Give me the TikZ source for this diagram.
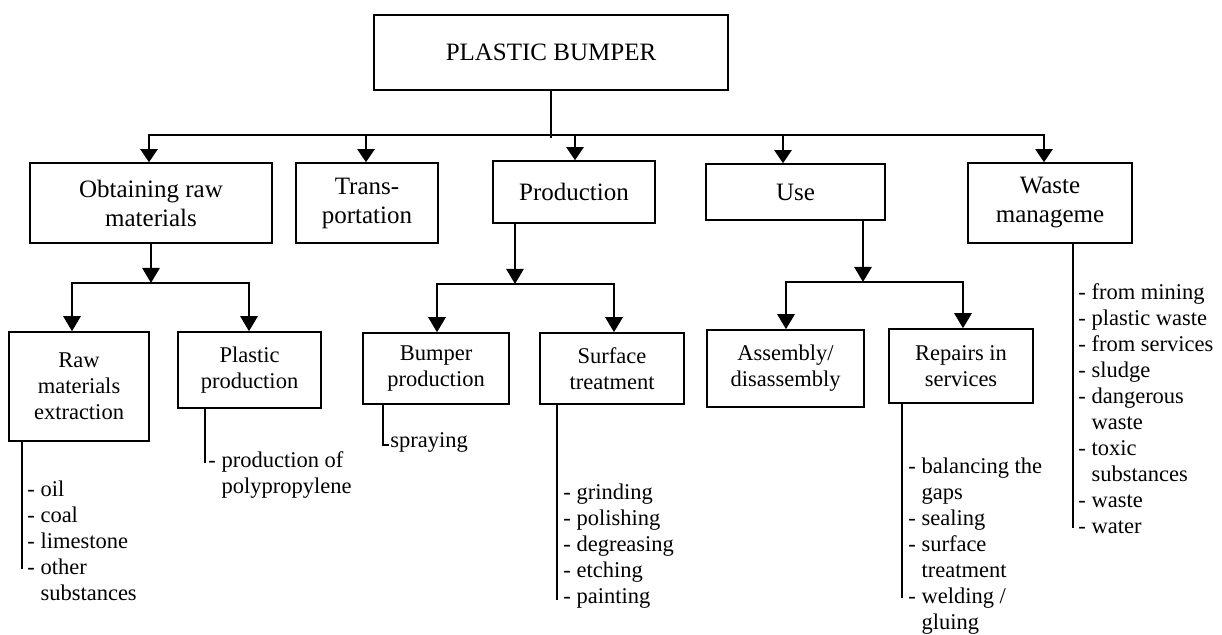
\documentclass[tikz,border=0pt]{standalone}
\usepackage{fontspec}
\setmainfont{Liberation Serif}
\usetikzlibrary{arrows.meta}
\tikzset{
  box/.style={draw, line width=0.75pt, align=center, inner sep=0pt, font=\fontsize{12.5}{14.5}\selectfont},
  sbox/.style={box, font=\fontsize{11.25}{13}\selectfont},
  conn/.style={line width=1pt},
  arr/.style={line width=1pt, -{Triangle[width=8.5pt,length=6.5pt]}},
  arrtwo/.style={line width=1.4pt, line join=miter, -{Triangle[width=8.5pt,length=7.5pt]}},
  listline/.style={line width=0.8pt},
  listtxt/.style={inner sep=0pt, anchor=base west, font=\fontsize{11.25}{13}\selectfont},
}
\begin{document}
\begin{tikzpicture}[x=0.5pt,y=-0.5pt]
\useasboundingbox (0,0) rectangle (1222,635);
\fill[white] (0,0) rectangle (1222,635);

% top
\node[box, minimum width=177pt, minimum height=37.5pt] (top) at (551,52.5) {PLASTIC BUMPER};

% level 1
\node[box, minimum width=121pt, minimum height=40pt] (obt) at (151,203) {Obtaining raw\\materials};
\node[box, minimum width=71pt, minimum height=40pt] (trans) at (367,203) {Trans-\\portation};
\node[box, minimum width=81pt, minimum height=31pt] (prod) at (574,192) {Production};
\node[box, minimum width=89.5pt, minimum height=28pt] (use) at (795.5,192) {Use};
\node[box, minimum width=82pt, minimum height=40pt] (waste) at (1050,203) {Waste\\manageme};

% level 2
\node[sbox, minimum width=70pt, minimum height=54.5pt] (rme) at (79,386.5) {Raw\\materials\\extraction};
\node[sbox, minimum width=71.5pt, minimum height=38pt] (pp) at (249.5,370) {Plastic\\production};
\node[sbox, minimum width=73pt, minimum height=35.5pt] (bp) at (436,368.5) {Bumper\\production};
\node[sbox, minimum width=72pt, minimum height=35.5pt] (st) at (612,368.5) {Surface\\treatment};
\node[sbox, minimum width=78.5pt, minimum height=38.5pt] (ad) at (785.5,368.5) {Assembly/\\disassembly};
\node[sbox, minimum width=72pt, minimum height=37pt] (rs) at (961,366) {Repairs in\\services};

% top bus
\coordinate (bus) at (551,135);
\coordinate (topend) at (551,138);
\coordinate (b1) at (149,135);
\coordinate (b2) at (366,135);
\coordinate (b3) at (575,135);
\coordinate (b4) at (783,135);
\coordinate (b5) at (1044,135);
\draw[conn] (top.south) -- (topend);
\draw[arr] (bus) -- (b1) -- (b1 |- obt.north);
\draw[arr] (bus) -- (b5) -- (b5 |- waste.north);
\draw[arr] (b2) -- (b2 |- trans.north);
\draw[arr] (b3) -- (b3 |- prod.north);
\draw[arr] (b4) -- (b4 |- use.north);

% obtaining raw materials branch
\coordinate (ob) at (151,283);
\coordinate (ol) at (72,283);
\coordinate (or) at (249,283);
\draw[arrtwo] (obt.south) -- (ob);
\draw[arrtwo] (ob) -- (ol) -- (ol |- rme.north);
\draw[arrtwo] (ob) -- (or) -- (or |- pp.north);

% production branch
\coordinate (pb) at (515,284);
\coordinate (pl) at (437,284);
\coordinate (pr) at (614,284);
\draw[arrtwo] (prod.south -| pb) -- (pb);
\draw[arrtwo] (pb) -- (pl) -- (pl |- bp.north);
\draw[arrtwo] (pb) -- (pr) -- (pr |- st.north);

% use branch
\coordinate (ub) at (863,282);
\coordinate (ul) at (786,282);
\coordinate (ur) at (963,282);
\draw[arrtwo] (use.south -| ub) -- (ub);
\draw[arrtwo] (ub) -- (ul) -- (ul |- ad.north);
\draw[arrtwo] (ub) -- (ur) -- (ur |- rs.north);

% lists
\coordinate (l1) at (22,569);
\draw[listline] (rme.south -| l1) -- (l1);
\node[listtxt] (t1) at (27,497) {\begin{tabular}[t]{@{}l@{\ }l@{}}-&oil\\-&coal\\-&limestone\\-&other\\&substances\end{tabular}};

\coordinate (l2) at (205,463);
\draw[listline] (pp.south -| l2) -- (l2);
\node[listtxt] (t2) at (208,468) {\begin{tabular}[t]{@{}l@{\ }l@{}}-&production of\\&polypropylene\end{tabular}};

\coordinate (l3) at (383,445);
\coordinate (l3e) at (389,445);
\draw[listline] (bp.south -| l3) -- (l3) -- (l3e);
\node[listtxt] (t3) at (390,448) {spraying};

\coordinate (l4) at (557,600);
\draw[listline] (st.south -| l4) -- (l4);
\node[listtxt] (t4) at (563,500) {\begin{tabular}[t]{@{}l@{\ }l@{}}-&grinding\\-&polishing\\-&degreasing\\-&etching\\-&painting\end{tabular}};

\coordinate (l5) at (902,598);
\draw[listline] (rs.south -| l5) -- (l5);
\node[listtxt] (t5) at (908,474) {\begin{tabular}[t]{@{}l@{\ }l@{}}-&balancing the\\&gaps\\-&sealing\\-&surface\\&treatment\\-&welding /\\&gluing\end{tabular}};

\coordinate (l6) at (1073,528);
\draw[listline] (waste.south -| l6) -- (l6);
\node[listtxt] (t6) at (1078,300) {\begin{tabular}[t]{@{}l@{\ }l@{}}-&from mining\\-&plastic waste\\-&from services\\-&sludge\\-&dangerous\\&waste\\-&toxic\\&substances\\-&waste\\-&water\end{tabular}};
\end{tikzpicture}
\end{document}
